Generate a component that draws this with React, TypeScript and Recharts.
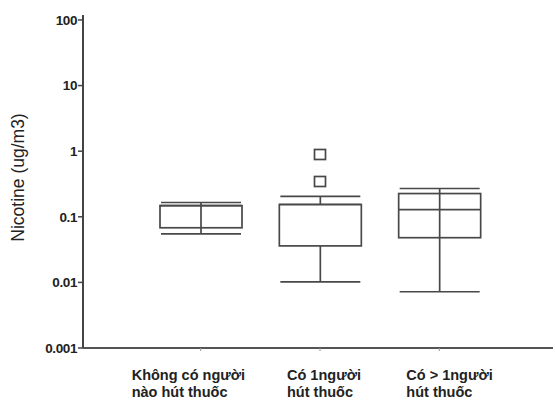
import React from "react"
import {
  ComposedChart,
  Bar,
  Scatter,
  XAxis,
  YAxis,
  Cell,
} from "recharts"

// groups (x axis), one label line per entry
const categories = ["none", "one", "many"]
const labelLines = [
  ["Không có người", "nào hút thuốc"],
  ["Có 1người", "hút thuốc"],
  ["Có > 1người", "hút thuốc"],
]

// box plot statistics, nicotine in ug/m3
const mins = [0.055, 0.0102, 0.0072]
const q1s = [0.068, 0.036, 0.048]
const medians = [0.148, 0.154, 0.129]
const q3s = [0.148, 0.154, 0.226]
const maxs = [0.165, 0.204, 0.27]

// outliers (only the middle group has some)
const outlierGroups = ["one", "one"]
const outlierValues = [0.89, 0.345]

const yTicks = [0.001, 0.01, 0.1, 1, 10, 100]

const data = categories.map((name, i) => ({
  name,
  whisker: [mins[i], maxs[i]],
  box: [q1s[i], q3s[i]],
  median: medians[i],
}))

const outliers = outlierGroups.map((name, i) => ({ name, v: outlierValues[i] }))

const STROKE = "#484848"
const BOX_FILL = ["none", "#fff", "none"]
const BOX_WIDTH = 82
// where each label block starts, relative to its tick
const LABEL_SHIFT = [-69, -33, -33]

const WhiskerShape = (props: any) => {
  const { x, y, width, height } = props
  const cx = x + width / 2
  return (
    <g stroke={STROKE} strokeWidth={1.7}>
      <line x1={cx} y1={y} x2={cx} y2={y + height} />
      <line x1={x + 1} y1={y} x2={x + width - 1} y2={y} />
      <line x1={x + 1} y1={y + height} x2={x + width - 1} y2={y + height} />
    </g>
  )
}

const BoxShape = (props: any) => {
  const { x, y, width, height, index } = props
  return (
    <rect
      x={x}
      y={y}
      width={width}
      height={height}
      fill={BOX_FILL[index]}
      stroke={STROKE}
      strokeWidth={1.7}
    />
  )
}

const MedianShape = (props: any) => {
  const { cx, cy } = props
  return (
    <line
      x1={cx - BOX_WIDTH / 2}
      y1={cy}
      x2={cx + BOX_WIDTH / 2}
      y2={cy}
      stroke={STROKE}
      strokeWidth={1.7}
    />
  )
}

const OutlierShape = (props: any) => {
  const { cx, cy } = props
  return (
    <rect x={cx - 5.5} y={cy - 5} width={11} height={10} fill="#fff" stroke={STROKE} strokeWidth={1.7} />
  )
}

const GroupTick = (props: any) => {
  const { x, y, index } = props
  const lines = labelLines[index] || []
  const startX = x + (LABEL_SHIFT[index] || 0)
  return (
    <text
      x={startX}
      y={y}
      textAnchor="start"
      fontFamily="'Liberation Sans', Arial, sans-serif"
      fontWeight="bold"
      fontSize={14.5}
      fill="#222"
    >
      {lines.map((line, i) => (
        <tspan key={i} x={startX} dy={i === 0 ? 27 : 17}>
          {line}
        </tspan>
      ))}
    </text>
  )
}

const YLabel = (props: any) => {
  const { viewBox } = props
  const cx = viewBox.x + 18
  const cy = viewBox.y + viewBox.height / 2 - 4
  return (
    <text
      x={cx}
      y={cy}
      transform={`rotate(-90, ${cx}, ${cy})`}
      textAnchor="middle"
      dominantBaseline="central"
      fontFamily="'Liberation Sans', Arial, sans-serif"
      fontSize={17.5}
      fill="#222"
    >
      Nicotine (ug/m3)
    </text>
  )
}

export default function App() {
  return (
    <div style={{ width: 555, height: 402, background: "#fff" }}>
      <style>{"body{margin:0}"}</style>
      <ComposedChart
        width={555}
        height={402}
        data={data}
        margin={{ top: 15, right: 2, bottom: 0, left: 0 }}
      >
        <XAxis
          dataKey="name"
          type="category"
          allowDuplicatedCategory={false}
          height={54}
          padding={{ left: 58, right: 54 }}
          axisLine={{ stroke: "#555", strokeWidth: 2 }}
          tickLine={{ stroke: "#999" }}
          tickSize={3}
          tickMargin={2}
          tick={<GroupTick />}
          interval={0}
        />
        <XAxis
          xAxisId="top"
          dataKey="name"
          type="category"
          allowDuplicatedCategory={false}
          orientation="top"
          height={0}
          padding={{ left: 58, right: 54 }}
          axisLine={{ stroke: "#666", strokeWidth: 2 }}
          tickLine={false}
          tick={false}
        />
        <YAxis
          scale="log"
          type="number"
          domain={[0.001, 119]}
          allowDataOverflow
          ticks={yTicks}
          tickFormatter={(v: number) => String(v)}
          width={83}
          tickSize={5}
          tickMargin={1}
          axisLine={{ stroke: "#444", strokeWidth: 2 }}
          tickLine={{ stroke: "#444", strokeWidth: 1.5 }}
          tick={{
            fill: "#222",
            fontSize: 13.5,
            fontWeight: "bold",
            fontFamily: "'Liberation Sans', Arial, sans-serif",
            letterSpacing: -0.4,
          }}
          interval={0}
          label={<YLabel />}
        />
        <YAxis
          yAxisId="right"
          orientation="right"
          type="number"
          domain={[0, 1]}
          width={0}
          tick={false}
          tickLine={false}
          axisLine={{ stroke: "#e4e4e4", strokeWidth: 1 }}
        />
        <Bar
          dataKey="whisker"
          barSize={BOX_WIDTH}
          shape={<WhiskerShape />}
          isAnimationActive={false}
        />
        <Bar
          dataKey="box"
          xAxisId="top"
          barSize={BOX_WIDTH}
          shape={<BoxShape />}
          isAnimationActive={false}
        >
          {data.map((d, i) => (
            <Cell key={d.name} fill={BOX_FILL[i]} />
          ))}
        </Bar>
        <Scatter dataKey="median" shape={<MedianShape />} isAnimationActive={false} />
        <Scatter data={outliers} dataKey="v" shape={<OutlierShape />} isAnimationActive={false} />
      </ComposedChart>
    </div>
  )
}
